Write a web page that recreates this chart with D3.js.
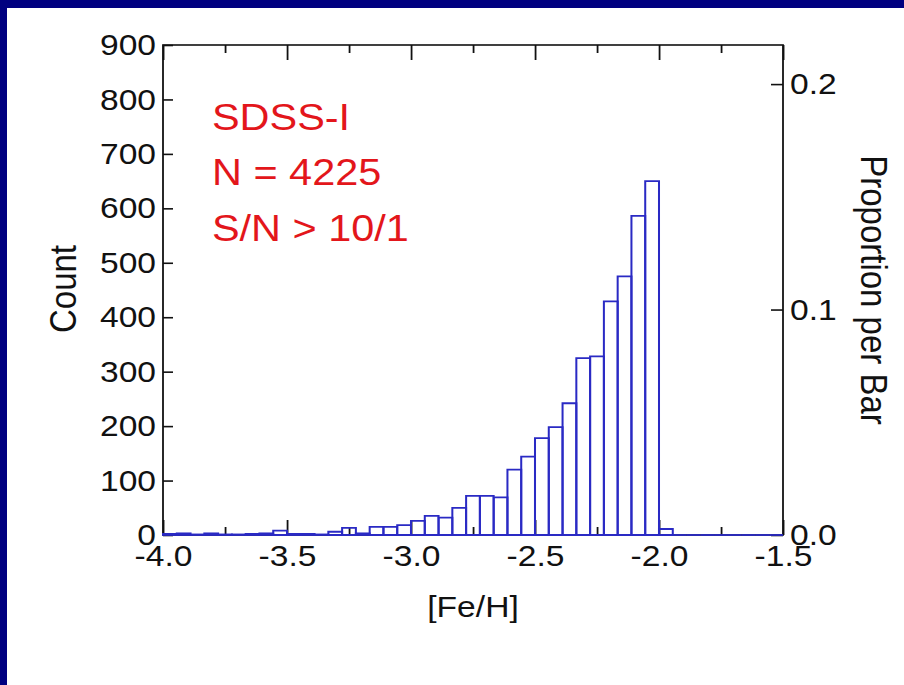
<!DOCTYPE html>
<html lang="en">
<head>
<meta charset="UTF-8">
<title>[Fe/H] histogram</title>
<script src="https://d3js.org/d3.v7.min.js"></script>
<style>
  html, body { margin: 0; padding: 0; background: #fff; }
  svg { display: block; }
  text { font-family: "Liberation Sans", Arial, Helvetica, sans-serif; fill: #111; }
</style>
</head>
<body>
<div id="chart"></div>
<script>
// histogram of [Fe/H], 45 bins from -4.0 to -1.5
const binStart = -4.0;
const binEnd = -1.5;
const binCounts = [
  2, 3, 1, 3, 1, 1, 2, 3, 8, 2, 2, 1,
  6, 13, 3, 15, 15, 18, 26, 35, 32, 50,
  72, 72, 69, 120, 144, 178, 198, 242, 325, 328,
  429, 475, 586, 650, 11,
  0, 0, 0, 0, 0, 0, 0, 0
];
const xTicks = [-4.0, -3.5, -3.0, -2.5, -2.0, -1.5];
const xMinorTicks = [-3.75, -3.25, -2.75, -2.25, -1.75];
const yTicks = [0, 100, 200, 300, 400, 500, 600, 700, 800, 900];
const propTicks = [0.0, 0.1, 0.2];
const notes = ["SDSS-I", "N = 4225", "S/N > 10/1"];

const W = 904, H = 685;
const SX = 1.12; // the slide picture is stretched sideways a bit
const svg = d3.select("#chart").append("svg")
  .attr("width", W)
  .attr("height", H)
  .attr("viewBox", `0 0 ${W / SX} ${H}`)
  .attr("preserveAspectRatio", "none");

// navy slide edge
svg.append("rect").attr("width", W / SX).attr("height", H).attr("fill", "#000080");
svg.append("rect").attr("x", 7 / SX).attr("y", 8)
  .attr("width", W / SX).attr("height", H).attr("fill", "#fff");

const plotLeft = 163 / SX, plotRight = 783 / SX, plotTop = 45, plotBottom = 535;
const x = d3.scaleLinear().domain([binStart, binEnd]).range([plotLeft, plotRight]);
const y = d3.scaleLinear().domain([0, 900]).range([plotBottom, plotTop]);
const total = d3.sum(binCounts);
const yProp = d3.scaleLinear().domain([0, 900 / total]).range([plotBottom, plotTop]);
const binW = (binEnd - binStart) / binCounts.length;
const fmt = d => d.toFixed(1);

function styleAxis(g, size) {
  g.select(".domain").remove();
  g.selectAll("line").attr("stroke", "#111").attr("stroke-width", 1.6);
  g.selectAll("text").attr("font-size", size).attr("fill", "#111")
    .attr("font-family", '"Liberation Sans", Arial, Helvetica, sans-serif');
}

// bottom axis
svg.append("g").attr("transform", `translate(0,${plotBottom})`)
  .call(d3.axisBottom(x).tickValues(xTicks).tickFormat(fmt).tickSize(-15).tickPadding(10))
  .call(g => styleAxis(g, 30));
svg.append("g").attr("transform", `translate(0,${plotBottom})`)
  .call(d3.axisBottom(x).tickValues(xMinorTicks).tickFormat("").tickSize(-8))
  .call(g => styleAxis(g, 30));
// top axis
svg.append("g").attr("transform", `translate(0,${plotTop})`)
  .call(d3.axisTop(x).tickValues(xTicks).tickFormat("").tickSize(-15))
  .call(g => styleAxis(g, 30));
svg.append("g").attr("transform", `translate(0,${plotTop})`)
  .call(d3.axisTop(x).tickValues(xMinorTicks).tickFormat("").tickSize(-8))
  .call(g => styleAxis(g, 30));
// left axis
svg.append("g").attr("transform", `translate(${plotLeft},0)`)
  .call(d3.axisLeft(y).tickValues(yTicks).tickFormat(d3.format("d")).tickSize(-10 / SX).tickPadding(7 / SX))
  .call(g => styleAxis(g, 30));
// right axis
svg.append("g").attr("transform", `translate(${plotRight},0)`)
  .call(d3.axisRight(yProp).tickValues(propTicks).tickFormat(fmt).tickSize(-12 / SX).tickPadding(7 / SX))
  .call(g => styleAxis(g, 30));

// frame
svg.append("rect")
  .attr("x", plotLeft).attr("y", plotTop)
  .attr("width", plotRight - plotLeft).attr("height", plotBottom - plotTop)
  .attr("fill", "none").attr("stroke", "#111").attr("stroke-width", 1.6);

// bars
svg.append("g")
  .selectAll("path")
  .data(binCounts)
  .join("path")
  .attr("d", (c, i) => {
    const x0 = x(binStart + i * binW), x1 = x(binStart + (i + 1) * binW);
    const p = d3.path();
    if (c > 0) {
      p.moveTo(x0, y(0));
      p.lineTo(x0, y(c));
      p.lineTo(x1, y(c));
      p.lineTo(x1, y(0));
      p.closePath();
    } else {
      p.moveTo(x0, y(0));
      p.lineTo(x1, y(0));
    }
    return p.toString();
  })
  .attr("fill", "none")
  .attr("stroke", "#2a2ac4")
  .attr("stroke-width", 1.8);

// axis titles
svg.append("text")
  .attr("transform", `translate(${76 / SX},289) rotate(-90)`)
  .attr("text-anchor", "middle")
  .attr("font-size", 33)
  .text("Count");
svg.append("text")
  .attr("transform", `translate(${861 / SX},290) rotate(90)`)
  .attr("text-anchor", "middle")
  .attr("font-size", 33)
  .text("Proportion per Bar");
svg.append("text")
  .attr("x", x(-2.75)).attr("y", 617)
  .attr("text-anchor", "middle")
  .attr("font-size", 30)
  .text("[Fe/H]");

// sample note
svg.append("g")
  .selectAll("text")
  .data(notes)
  .join("text")
  .attr("x", 212 / SX)
  .attr("y", (d, i) => 130 + i * 55.5)
  .attr("font-size", 37)
  .style("fill", "#e3161b")
  .text(d => d);
</script>
</body>
</html>
